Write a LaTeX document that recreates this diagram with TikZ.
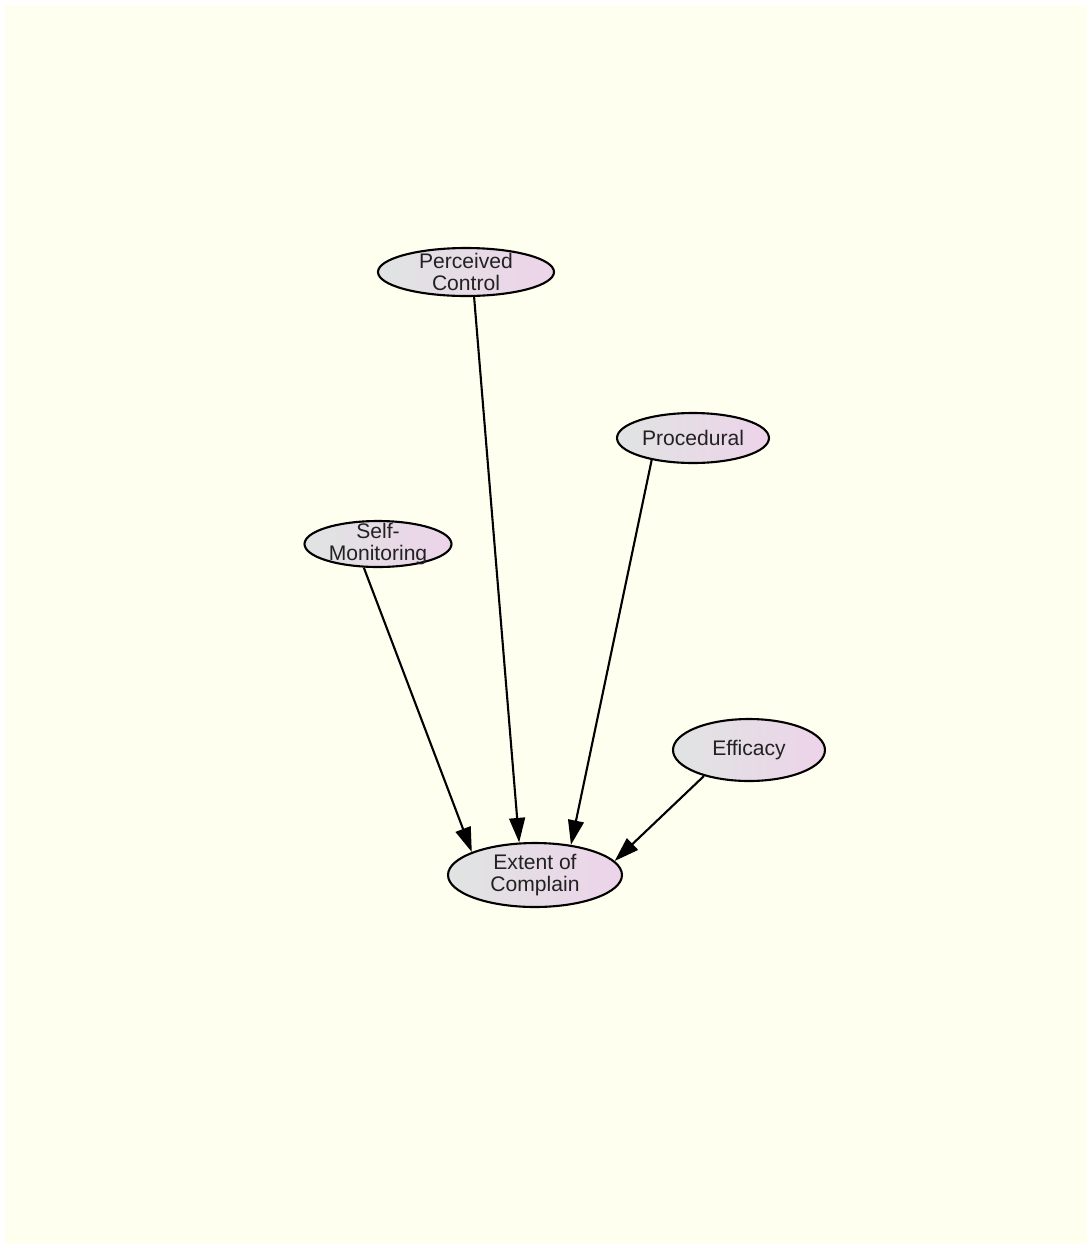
\documentclass[tikz,border=0pt]{standalone}
\usepackage{fontspec}
\setmainfont{Liberation Sans}
\usepackage{tikz}
\usetikzlibrary{arrows.meta, shapes.geometric}
\definecolor{paper}{RGB}{255,255,240}
\definecolor{nodeleft}{RGB}{224,228,226}
\definecolor{noderight}{RGB}{237,211,234}
\definecolor{ink}{RGB}{34,34,34}

\begin{document}
\begin{tikzpicture}[x=0.02cm, y=-0.02cm,
  var/.style={ellipse, draw, line width=1.2pt, left color=nodeleft, right color=noderight,
    text=ink, align=center, inner xsep=0pt, inner ysep=-6pt,
    font=\fontsize{12}{12.2}\selectfont},
  path/.style={line width=1.2pt, -{Triangle[length=14pt, width=9pt]}}]
  % Canvas
  \useasboundingbox (0,0) rectangle (1092,1249);
  \fill[white] (0,0) rectangle (1092,1249);
  \fill[paper] (5,5) rectangle (1087,1244);
  % Variables
  \node[var, minimum width=3.52cm, minimum height=0.96cm] (control) at (466,272) {Perceived\\Control};
  \node[var, minimum width=3.04cm, minimum height=1.0cm] (procedural) at (693,438) {Procedural};
  \node[var, minimum width=2.94cm, minimum height=0.92cm] (selfmon) at (378,544) {Self-\\Monitoring};
  \node[var, minimum width=3.04cm, minimum height=1.24cm] (efficacy) at (749,750) {Efficacy};
  \node[var, minimum width=3.48cm, minimum height=1.28cm] (complain) at (535,875) {Extent of\\Complain};
  % Paths
  \draw[path] (control.-72) -- (complain.116);
  \draw[path] (procedural.-152) -- (complain.40);
  \draw[path] (selfmon.-121) -- (complain.160);
  \draw[path] (efficacy.-150) -- (complain.10);
\end{tikzpicture}
\end{document}
